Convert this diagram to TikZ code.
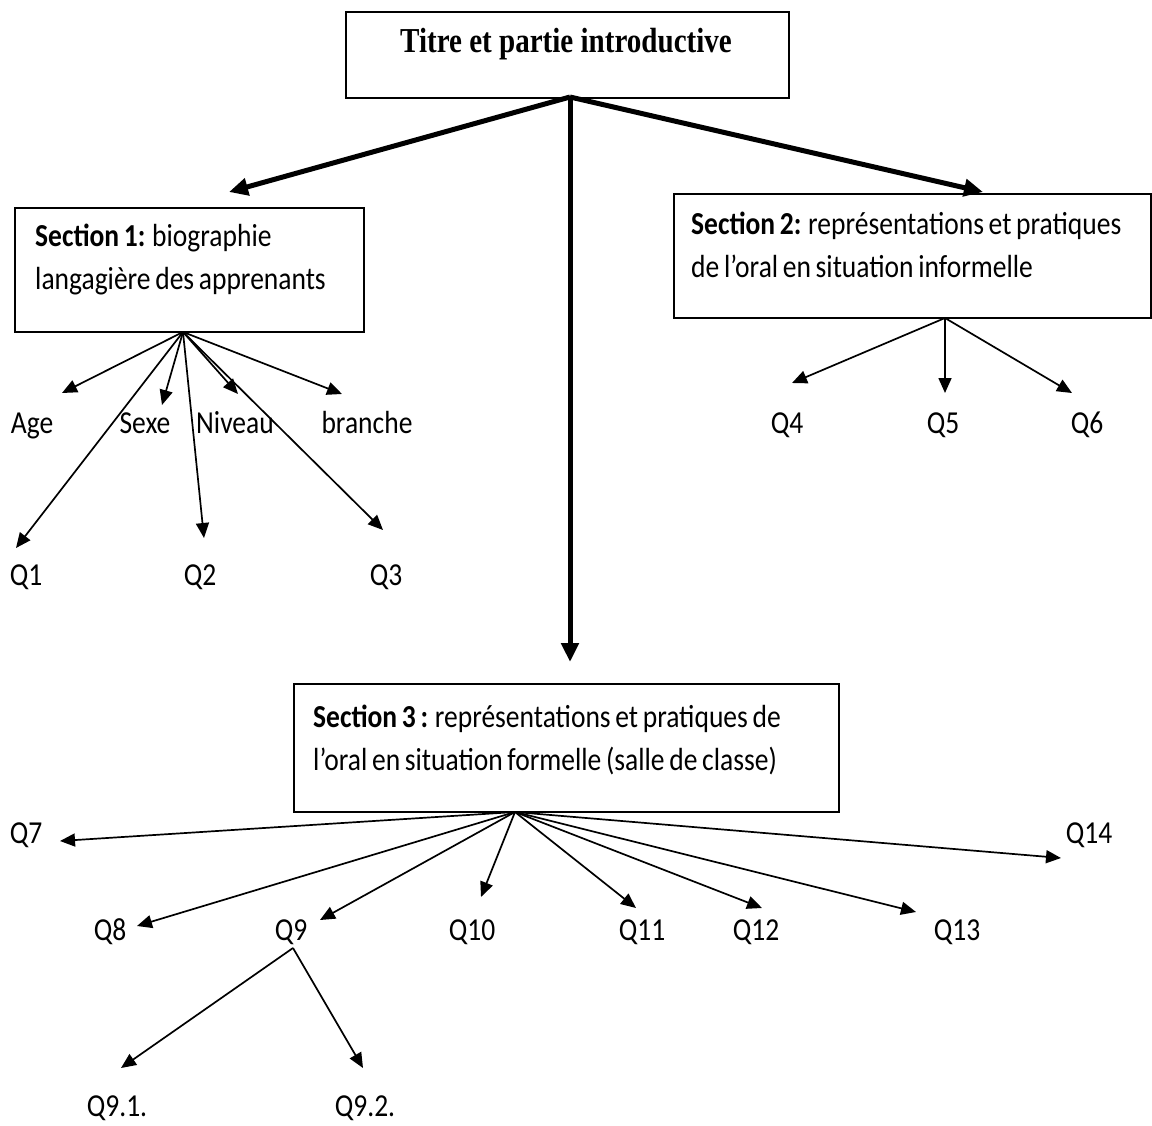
\documentclass[tikz,border=0pt]{standalone}
\usepackage{fontspec}
\setmainfont{Carlito}[FakeStretch=0.86,WordSpace=0.75]
\newfontfamily\titlefont{Liberation Serif}[FakeStretch=0.83]
\usetikzlibrary{arrows.meta}
\tikzset{
  box/.style={draw, line width=1.8pt, rectangle, inner sep=0pt, anchor=north west},
  txt/.style={inner sep=0pt, anchor=base west, font=\fontsize{32}{40}\selectfont},
  lbl/.style={inner sep=0pt, anchor=base, font=\fontsize{32}{40}\selectfont},
  arr/.style={line width=1.7pt, -{Triangle[length=15pt,width=13pt]}},
  bigarr/.style={line width=5pt, -{Triangle[length=19pt,width=17pt]}},
}
\begin{document}
\begin{tikzpicture}[x=1pt,y=-1pt]
\useasboundingbox[fill=white] (0,0) rectangle (1152,1126);

% boxes
\node[box, minimum width=443pt, minimum height=86pt] (title) at (345,11) {};
\node[box, minimum width=349pt, minimum height=124pt] (s1) at (14,207) {};
\node[box, minimum width=477pt, minimum height=124pt] (s2) at (673,193) {};
\node[box, minimum width=545pt, minimum height=128pt] (s3) at (293,683) {};

% box texts
\node[inner sep=0pt, anchor=base, font={\titlefont\fontsize{35}{40}\selectfont\bfseries}] (titletext) at (566,53) {Titre et partie introductive};
\node[txt] (s1a) at (35,247) {\textbf{Section 1:} biographie};
\node[txt] (s1b) at (35,290) {langagière des apprenants};
\node[txt] (s2a) at (691,235) {\textbf{Section 2:} représentations et pratiques};
\node[txt] (s2b) at (691,278) {de l’oral en situation informelle};
\node[txt] (s3a) at (313,727) {\textbf{Section 3 :} représentations et pratiques de};
\node[txt] (s3b) at (313,770) {l’oral en situation formelle (salle de classe)};

% labels
\node[lbl] (age) at (32,433) {Age};
\node[lbl] (sexe) at (145,433) {Sexe};
\node[lbl] (niveau) at (235,433) {Niveau};
\node[lbl] (branche) at (367,433) {branche};
\node[lbl] (q1) at (26,585) {Q1};
\node[lbl] (q2) at (200,585) {Q2};
\node[lbl] (q3) at (386,585) {Q3};
\node[lbl] (q4) at (787,433) {Q4};
\node[lbl] (q5) at (943,433) {Q5};
\node[lbl] (q6) at (1087,433) {Q6};
\node[lbl] (q7) at (26,843) {Q7};
\node[lbl] (q14) at (1089,843) {Q14};
\node[lbl] (q8) at (110,940) {Q8};
\node[lbl] (q9) at (291,940) {Q9};
\node[lbl] (q10) at (472,940) {Q10};
\node[lbl] (q11) at (642,940) {Q11};
\node[lbl] (q12) at (756,940) {Q12};
\node[lbl] (q13) at (957,940) {Q13};
\node[lbl] (q91) at (117,1116) {Q9.1.};
\node[lbl] (q92) at (365,1116) {Q9.2.};

% origins
\coordinate (o0) at (570,97);
\coordinate (o1) at (183,332);
\coordinate (o2) at (945,318);
\coordinate (o3) at (515,812);
\coordinate (o9) at (293,948);

% tips
\coordinate (tS1) at (229,192);
\coordinate (tS3) at (570,662);
\coordinate (tS2) at (983,192);
\coordinate (tAge) at (62,393);
\coordinate (tSexe) at (162,405);
\coordinate (tNiv) at (238,394);
\coordinate (tBr) at (342,394);
\coordinate (tQ1) at (16,548);
\coordinate (tQ2) at (204,538);
\coordinate (tQ3) at (383,530);
\coordinate (tQ4) at (792,383);
\coordinate (tQ5) at (945,393);
\coordinate (tQ6) at (1072,393);
\coordinate (tQ7) at (60,841);
\coordinate (tQ8) at (137,926);
\coordinate (tQ9) at (320,920);
\coordinate (tQ10) at (481,897);
\coordinate (tQ11) at (636,908);
\coordinate (tQ12) at (762,908);
\coordinate (tQ13) at (916,912);
\coordinate (tQ14) at (1061,858);
\coordinate (tQ91) at (121,1068);
\coordinate (tQ92) at (363,1068);

% thick connectors
\draw[bigarr] (o0) -- (tS1);
\draw[bigarr] (o0) -- (tS3);
\draw[bigarr] (o0) -- (tS2);

% section 1
\foreach \t in {tAge,tSexe,tNiv,tBr,tQ1,tQ2,tQ3} \draw[arr] (o1) -- (\t);
% section 2
\foreach \t in {tQ4,tQ5,tQ6} \draw[arr] (o2) -- (\t);
% section 3
\foreach \t in {tQ7,tQ8,tQ9,tQ10,tQ11,tQ12,tQ13,tQ14} \draw[arr] (o3) -- (\t);
% Q9
\foreach \t in {tQ91,tQ92} \draw[arr] (o9) -- (\t);
\end{tikzpicture}
\end{document}
